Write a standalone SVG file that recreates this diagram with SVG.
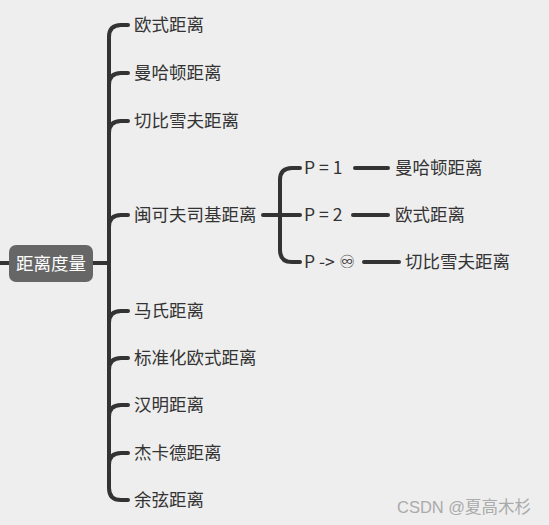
<svg xmlns="http://www.w3.org/2000/svg" width="549" height="525" viewBox="0 0 549 525">
<style>
.c{fill:none;stroke:#333;stroke-width:4;stroke-linecap:round;stroke-linejoin:round}
.t{font-family:"Noto Sans CJK SC","Liberation Sans",sans-serif;font-size:17.5px;fill:#333;dominant-baseline:central}
.r{font-family:"Noto Sans CJK SC","Liberation Sans",sans-serif;font-size:17.5px;fill:#fff;dominant-baseline:central;text-anchor:middle}
.w{font-family:"Liberation Sans","Noto Sans CJK SC",sans-serif;font-size:16.5px;fill:#aaa}
</style>
<rect width="549" height="525" fill="#eeeeee"/>
<g id="connectors">
<path class="c" d="M0,263 H9 M93,263 H109"/>
<path class="c" d="M128,25 H121 Q109,25 109,37 V488 Q109,500 121,500 H128"/>
<path class="c" d="M109,85 Q109,73 121,73 H128 M109,133 Q109,121 121,121 H128 M109,227 Q109,215 121,215 H128 M109,323 Q109,311 121,311 H128 M109,370 Q109,358 121,358 H128 M109,417 Q109,405 121,405 H128 M109,465 Q109,453 121,453 H128"/>
<path class="c" d="M263,215 H300 M300,168 H292 Q280,168 280,180 V250 Q280,262 292,262 H300"/>
<path class="c" d="M355,168 H388 M353,215 H388 M364,262 H399"/>
</g>
<g id="root"><rect x="9" y="245" width="84" height="37" rx="7" fill="#666"/><text class="r" x="51" y="262">距离度量</text></g>
<g id="n1"><text class="t" x="134" y="23">欧式距离</text></g>
<g id="n2"><text class="t" x="134" y="71">曼哈顿距离</text></g>
<g id="n3"><text class="t" x="134" y="119">切比雪夫距离</text></g>
<g id="n4"><text class="t" x="134" y="213">闽可夫司基距离</text></g>
<g id="n5"><text class="t" x="134" y="309">马氏距离</text></g>
<g id="n6"><text class="t" x="134" y="356">标准化欧式距离</text></g>
<g id="n7"><text class="t" x="134" y="403">汉明距离</text></g>
<g id="n8"><text class="t" x="134" y="451">杰卡德距离</text></g>
<g id="n9"><text class="t" x="134" y="498">余弦距离</text></g>
<g id="p1"><text class="t" x="304" y="166">P = 1</text></g>
<g id="p2"><text class="t" x="304" y="213">P = 2</text></g>
<g id="p3"><text class="t" x="304" y="260">P -&gt; ♾</text></g>
<g id="q1"><text class="t" x="395" y="166">曼哈顿距离</text></g>
<g id="q2"><text class="t" x="395" y="213">欧式距离</text></g>
<g id="q3"><text class="t" x="405" y="260">切比雪夫距离</text></g>
<text class="w" x="397" y="513">CSDN @夏高木杉</text>
</svg>
